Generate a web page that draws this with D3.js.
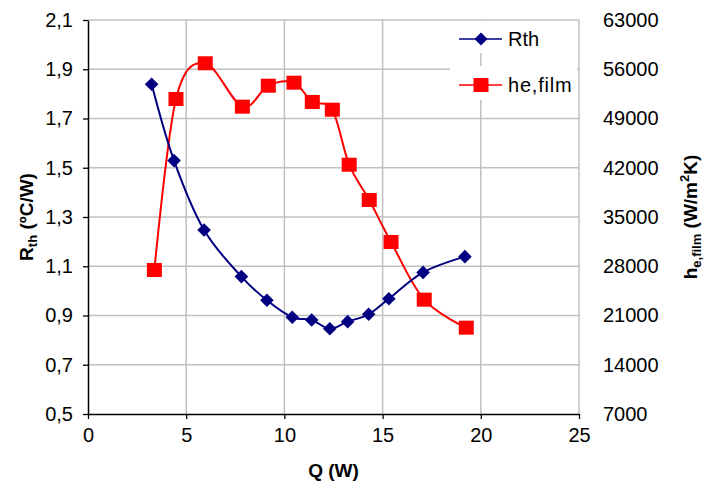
<!DOCTYPE html>
<html><head><meta charset="utf-8">
<script src="https://cdn.jsdelivr.net/npm/d3@7/dist/d3.min.js"></script>
<style>
html,body{margin:0;padding:0;background:#fff;}
svg{display:block;font-family:"Liberation Sans",Arial,sans-serif;}
</style></head>
<body>
<svg id="chart" width="707" height="483"></svg>
<script>
// ---- data ----
const qRth = [3.24, 4.38, 5.91, 7.81, 9.11, 10.40, 11.39, 12.31, 13.22, 14.29, 15.32, 17.06, 19.19];
const rthValues = [1.839, 1.529, 1.247, 1.058, 0.962, 0.893, 0.882, 0.846, 0.875, 0.905, 0.968, 1.075, 1.139];
const qHe = [3.38, 4.48, 5.97, 7.86, 9.18, 10.49, 11.42, 12.44, 13.30, 14.32, 15.43, 17.12, 19.26];
const heValues = [27470, 51770, 56850, 50680, 53660, 54090, 51350, 50250, 42430, 37420, 31450, 23250, 19270];
const xTicks = [0, 5, 10, 15, 20, 25];
const yLeftTicks = [0.5, 0.7, 0.9, 1.1, 1.3, 1.5, 1.7, 1.9, 2.1];
const yRightTicks = [7000, 14000, 21000, 28000, 35000, 42000, 49000, 56000, 63000];
const seriesNames = ["Rth", "he,film"];

// ---- layout ----
const L = 88, R = 579, T = 20, B = 414;
const svg = d3.select("#chart");
const x = d3.scaleLinear().domain([0, 25]).range([L, R]);
const yL = d3.scaleLinear().domain([0.5, 2.1]).range([B, T]);
const yR = d3.scaleLinear().domain([7000, 63000]).range([B, T]);
const fmt = d => d3.format(".1f")(d).replace(".", ",");
const gridC = "#c0c0c0";
const FS = 19, TFS = 20;

// gridlines
svg.append("g").selectAll("line").data(yLeftTicks.slice(1)).join("line")
  .attr("x1", L).attr("x2", R).attr("y1", d => yL(d)).attr("y2", d => yL(d))
  .attr("stroke", gridC).attr("stroke-width", 1.3);
svg.append("g").selectAll("line").data(xTicks.slice(1)).join("line")
  .attr("x1", d => x(d)).attr("x2", d => x(d)).attr("y1", T).attr("y2", B)
  .attr("stroke", gridC).attr("stroke-width", 1.5);

// legend backgrounds (cover gridlines)
svg.append("rect").attr("x", 450).attr("y", T + 1).attr("width", 127).attr("height", 32).attr("fill", "#fff");
svg.append("rect").attr("x", 450).attr("y", 66).attr("width", 127).attr("height", 34).attr("fill", "#fff");

// axes
const xAxis = d3.axisBottom(x).tickValues(xTicks).tickSize(5).tickSizeOuter(0).tickPadding(6).tickFormat(d3.format("d"));
const gx = svg.append("g").attr("transform", `translate(0,${B})`).call(xAxis);
const yAxis = d3.axisLeft(yL).tickValues(yLeftTicks).tickSize(5).tickSizeOuter(0).tickPadding(10).tickFormat(fmt);
const gy = svg.append("g").attr("transform", `translate(${L},0)`).call(yAxis);
const yAxisR = d3.axisRight(yR).tickValues(yRightTicks).tickSize(0).tickPadding(0).tickFormat(d3.format("d"));
const gr = svg.append("g").attr("transform", `translate(603,0)`).call(yAxisR);
[gx, gy, gr].forEach(g => {
  g.selectAll("path.domain").attr("stroke", "#000").attr("stroke-width", 1.5);
  g.selectAll(".tick line").attr("stroke", "#000").attr("stroke-width", 1.3);
  g.selectAll("text").attr("font-size", TFS).attr("fill", "#000").attr("font-family", "Liberation Sans, Arial, sans-serif");
});
gr.select("path.domain").remove();
gx.selectAll("text").attr("dy", "0.85em");

// axis titles
svg.append("text").attr("x", (L + R) / 2).attr("y", 477).attr("text-anchor", "middle")
  .attr("font-size", FS).attr("font-weight", "bold").text("Q (W)");
const lt = svg.append("text").attr("transform", `translate(33,${(T + B) / 2}) rotate(-90)`)
  .attr("text-anchor", "middle").attr("font-size", FS).attr("font-weight", "bold");
lt.append("tspan").text("R");
lt.append("tspan").attr("font-size", 13).attr("dy", 4).text("th");
lt.append("tspan").attr("dy", -4).text(" (ºC/W)");
const rt = svg.append("text").attr("transform", `translate(697,${(T + B) / 2}) rotate(-90)`)
  .attr("text-anchor", "middle").attr("font-size", FS).attr("font-weight", "bold");
rt.append("tspan").text("h");
rt.append("tspan").attr("font-size", 13).attr("dy", 4).text("e,film");
rt.append("tspan").attr("dy", -4).text(" (W/m");
rt.append("tspan").attr("font-size", 13).attr("dy", -8).text("2");
rt.append("tspan").attr("dy", 8).text("K)");

// series
const rthData = qRth.map((q, i) => ({ q, v: rthValues[i] }));
const heData = qHe.map((q, i) => ({ q, v: heValues[i] }));
const curve = d3.curveCatmullRom.alpha(0);
const blue = "#000080", red = "#ff0000";

svg.append("path").datum(heData).attr("fill", "none").attr("stroke", red).attr("stroke-width", 2)
  .attr("d", d3.line().x(d => x(d.q)).y(d => yR(d.v)).curve(curve));
svg.append("path").datum(rthData).attr("fill", "none").attr("stroke", blue).attr("stroke-width", 2)
  .attr("d", d3.line().x(d => x(d.q)).y(d => yL(d.v)).curve(curve));

const diamond = s => `M0,${-s}L${s},0L0,${s}L${-s},0Z`;
svg.append("g").selectAll("path").data(rthData).join("path")
  .attr("transform", d => `translate(${x(d.q)},${yL(d.v)})`).attr("d", diamond(6.8)).attr("fill", blue);
svg.append("g").selectAll("rect").data(heData).join("rect")
  .attr("x", d => x(d.q) - 7.5).attr("y", d => yR(d.v) - 7).attr("width", 15).attr("height", 14).attr("fill", red);

// legend
const lg = svg.append("g");
const ly = [39, 85];
lg.selectAll("line").data(seriesNames).join("line")
  .attr("x1", 459).attr("x2", 502).attr("y1", (d, i) => ly[i]).attr("y2", (d, i) => ly[i])
  .attr("stroke", (d, i) => i === 0 ? blue : red).attr("stroke-width", 1.5);
lg.append("path").attr("transform", `translate(481,${ly[0]})`).attr("d", diamond(6.5)).attr("fill", blue);
lg.append("rect").attr("x", 481 - 7.5).attr("y", ly[1] - 7).attr("width", 15).attr("height", 14).attr("fill", red);
lg.selectAll("text").data(seriesNames).join("text")
  .attr("x", 508).attr("y", (d, i) => ly[i]).attr("dy", "0.35em").attr("font-size", TFS)
  .attr("letter-spacing", (d, i) => i === 1 ? 0.8 : 0).text(d => d);
</script>
</body></html>
